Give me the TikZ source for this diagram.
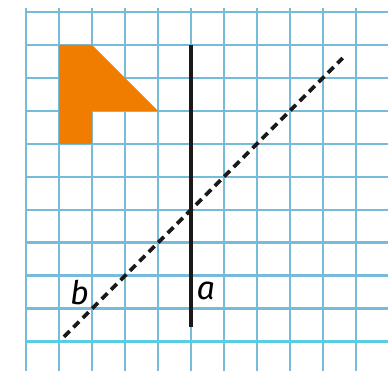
\documentclass[tikz,border=0pt]{standalone}
\usepackage{fontspec}
\setsansfont{Fira Sans}
\usepackage{tikz}
\usepackage{xcolor}
\definecolor{gridblue}{RGB}{118,188,218}
\definecolor{figorange}{RGB}{240,125,0}
\tikzset{
  gridline/.style={line width=2.3pt, draw=gridblue},
  baseline/.style={line width=2.8pt, draw=gridblue!75!cyan},
  axisline/.style={line width=2.8pt, draw=black!90},
  mirrorline/.style={line width=3.2pt, draw=black!90, dash pattern=on 7pt off 4.5pt},
  figure/.style={fill=figorange, draw=none},
  lbl/.style={font=\fontsize{28}{30}\selectfont\sffamily\itshape, inner sep=0pt, anchor=base},
}
\begin{document}
\begin{tikzpicture}[x=1cm, y=-1cm]
  % Rahmen: 1 Kaestchen = 1cm
  \useasboundingbox (-0.79,-0.36) rectangle (10.97,10.88);
  % Karopapier
  \foreach \c in {0,...,10}{
    \draw[gridline] (\c,-0.12) -- (\c,10.88);
  }
  \foreach \r in {0,...,9}{
    \draw[gridline] (0,\r) -- (10.97,\r);
  }
  \draw[baseline] (0,10) -- (10.97,10);
  % Figur
  \fill[figure] (1,1) -- (2,1) -- (4,3) -- (2,3) -- (2,4) -- (1,4) -- cycle;
  % Gerade a (senkrecht)
  \coordinate (aTop) at (5,1);
  \coordinate (aBot) at (5,9.55);
  \draw[axisline] (aTop) -- (aBot);
  % Gerade b (gestrichelt, 45 Grad)
  \coordinate (bLow) at (1.15,9.85);
  \coordinate (bUp) at (9.6,1.4);
  \draw[mirrorline] (bLow) -- (bUp);
  % Beschriftung
  \node[lbl] (labA) at (5.45,8.73) {a};
  \node[lbl] (labB) at (1.62,8.88) {b};
\end{tikzpicture}
\end{document}
